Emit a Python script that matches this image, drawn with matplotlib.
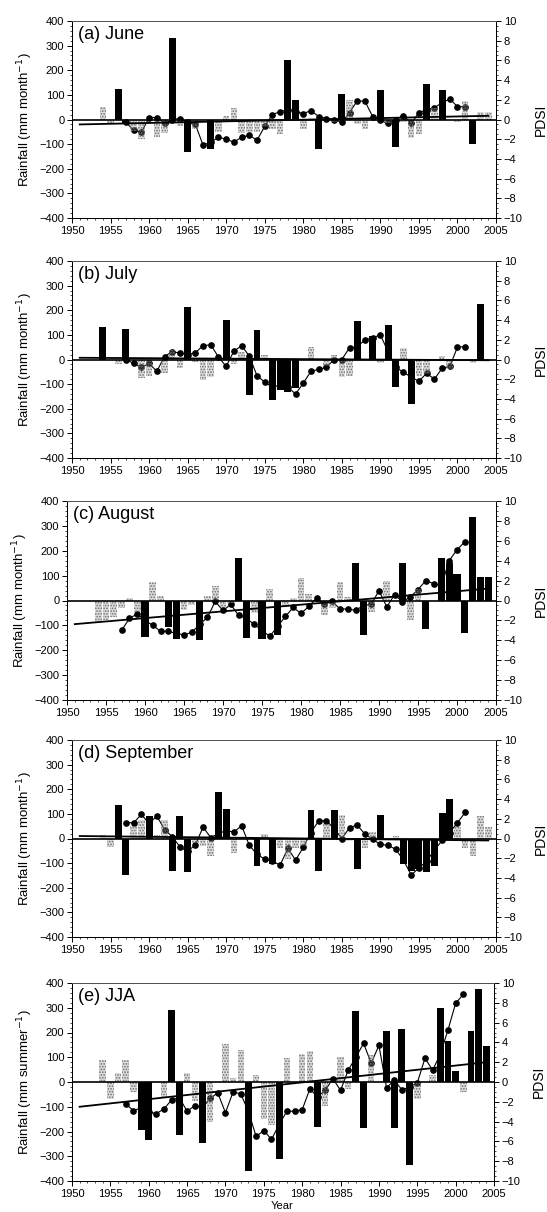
import matplotlib
matplotlib.use('Agg')
import matplotlib.pyplot as plt
from matplotlib.ticker import MultipleLocator

plt.rcParams['font.family'] = ['Liberation Sans', 'DejaVu Sans']
plt.rcParams['hatch.linewidth'] = 0.8

# PDSI is plotted for these years in every panel
PDSI_START = 1957

# (a) June
jun_black_years = [1956, 1957, 1963, 1965, 1968, 1978, 1979, 1982, 1985, 1990, 1992, 1996, 1998, 2002]
jun_black_vals = [125, -15, 330, -130, -120, 240, 80, -120, 105, 120, -110, 145, 120, -100]
jun_grey_years = [1954, 1955, 1958, 1959, 1961, 1962, 1964, 1966, 1969, 1970, 1971, 1972, 1973,
                  1974, 1975, 1976, 1977, 1980, 1984, 1986, 1987, 1988, 1991, 1993, 1994, 1995,
                  1997, 2000, 2001, 2003, 2004]
jun_grey_vals = [50, -20, -45, -80, -70, -55, -25, -40, -50, 15, 45, -55, -50,
                 -50, -30, -40, -60, -40, -10, 80, -20, -40, -15, -10, -75, -60,
                 45, -10, 75, 30, 30]
jun_pdsi = [-0.3, -1.1, -1.3, 0.2, 0.2, -0.4, 0.0, 0.1, -0.3, -0.5,
            -2.6, -2.3, -1.8, -2.0, -2.3, -1.8, -1.6, -2.1, -0.7, 0.5,
            0.8, 1.0, 0.8, 0.6, 0.9, 0.3, 0.1, 0.0, -0.3, 0.7,
            1.9, 1.85, 0.3, -0.1, -0.4, 0.0, 0.4, -0.4, 0.7, 1.0,
            1.2, 1.7, 2.1, 1.3, 1.3]
jun_trend = [-20, 15]

# (b) July
jul_black_years = [1954, 1957, 1965, 1970, 1973, 1974, 1976, 1977, 1978, 1979, 1987, 1989,
                   1991, 1992, 1994, 2003]
jul_black_vals = [130, 125, 215, 160, -145, 120, -165, -125, -130, -115, 155, 95,
                  140, -110, -180, 225]
jul_grey_years = [1956, 1959, 1960, 1962, 1963, 1964, 1966, 1967, 1968, 1971, 1972, 1975,
                  1981, 1983, 1984, 1985, 1986, 1990, 1993, 1995, 1996, 1998, 1999, 2002, 2004]
jul_grey_vals = [-20, -75, -65, -55, 40, -35, -10, -85, -70, -20, 30, 20,
                 50, -25, 20, -70, -65, -15, 45, -65, -60, 15, -40, -15, -5]
jul_pdsi = [0.0, -0.4, -0.8, -0.4, -1.2, 0.3, 0.8, 0.65, 0.5, 0.7,
            1.4, 1.5, 0.25, -0.7, 0.85, 1.4, 0.35, -1.65, -2.3, -2.8,
            -2.6, -2.8, -3.5, -2.4, -1.2, -1.0, -0.8, 0.0, 0.0, 1.2,
            1.3, 2.0, 2.2, 2.5, 0.8, -0.8, -1.3, -1.8, -2.2, -1.4,
            -2.0, -0.9, -0.7, 1.25, 1.3]
jul_trend = [7, -3]

# (c) August
aug_black_years = [1960, 1963, 1964, 1967, 1972, 1973, 1975, 1977, 1987, 1988, 1993, 1996,
                   1998, 1999, 2000, 2001, 2002, 2003, 2004]
aug_black_vals = [-145, -105, -155, -160, 170, -150, -155, -140, 150, -140, 150, -115,
                  170, 150, 105, -130, 335, 95, 95]
aug_grey_years = [1954, 1955, 1956, 1957, 1958, 1959, 1961, 1962, 1965, 1966, 1968, 1969,
                  1970, 1971, 1974, 1976, 1978, 1979, 1980, 1981, 1983, 1984, 1985, 1986,
                  1989, 1991, 1994, 1995]
aug_grey_vals = [-85, -80, -65, -30, 10, -45, 75, 20, -40, -20, 20, 60,
                 -25, -10, -50, 45, -25, 10, 90, 25, -60, -30, 75, 15,
                 -45, 80, -80, 45]
aug_pdsi = [-3.0, -1.8, -1.35, -2.0, -2.5, -3.1, -3.1, -3.3, -3.45, -3.2,
            -2.4, -1.7, -0.1, -1.0, -0.4, -1.5, -1.8, -2.4, -3.0, -3.6,
            -2.6, -1.6, -0.7, -1.3, -0.6, 0.25, -0.35, -0.1, -0.85, -0.85,
            -1.0, -0.5, -0.4, 1.0, -0.65, 0.6, -0.15, 0.35, 1.1, 2.0,
            1.7, 1.5, 4.0, 5.1, 5.9]
aug_trend = [-95, 48]

# (d) September
sep_black_years = [1956, 1957, 1960, 1963, 1964, 1965, 1969, 1970, 1974, 1976, 1981, 1982,
                   1984, 1987, 1990, 1993, 1994, 1995, 1996, 1997, 1998, 1999]
sep_black_vals = [135, -150, 90, -130, 90, -135, 190, 120, -110, -105, 115, -130,
                  115, -125, 95, -105, -130, -125, -135, -110, 105, 160]
sep_grey_years = [1954, 1955, 1958, 1959, 1961, 1962, 1966, 1967, 1968, 1971, 1975, 1977,
                  1978, 1979, 1980, 1983, 1985, 1986, 1988, 1989, 1992, 2000, 2001, 2002,
                  2003, 2004]
sep_grey_vals = [15, -35, 50, 75, 15, 75, -20, -30, -70, -60, 20, -40,
                 -85, -40, -30, 60, 95, -10, -40, 25, 10, 45, -40, -70,
                 90, 45]
sep_pdsi = [1.6, 1.6, 2.45, 1.5, 2.3, 0.9, 0.2, -0.85, -1.3, -0.65,
            1.15, 0.1, 0.5, 0.8, 0.65, 1.3, -0.7, -1.6, -2.1, -2.3,
            -2.7, -1.0, -2.2, -0.9, 0.6, 1.8, 1.8, 1.0, 0.0, 1.1,
            1.35, 0.45, -0.1, -0.6, -0.7, -1.1, -2.2, -3.7, -3.0, -2.3,
            -1.2, -0.2, 0.6, 1.6, 2.65]
sep_trend = [10, -8]

# (e) JJA
jja_black_years = [1959, 1960, 1963, 1964, 1967, 1973, 1977, 1982, 1987, 1988, 1991, 1992,
                   1993, 1994, 1998, 1999, 2000, 2002, 2003, 2004]
jja_black_vals = [-195, -235, 290, -215, -245, -360, -310, -180, 285, -185, 205, -185,
                  215, -335, 300, 165, 45, 205, 375, 145]
jja_grey_years = [1954, 1955, 1956, 1957, 1958, 1961, 1962, 1965, 1966, 1968, 1970, 1971,
                  1972, 1974, 1975, 1976, 1978, 1980, 1981, 1983, 1985, 1986, 1989, 1995,
                  1997, 2001]
jja_grey_vals = [90, -70, 35, 90, -40, 5, -60, 35, -75, -160, 155, 15,
                 130, 30, -150, -175, 95, 115, 125, -95, 100, -30, 110, -70,
                 30, -40]
jja_pdsi = [-2.2, -2.9, -2.6, -3.0, -3.2, -2.7, -1.8, -1.6, -2.95, -2.4,
            -2.6, -1.65, -1.1, -3.1, -1.0, -1.2, -3.0, -5.5, -4.9, -5.8,
            -4.3, -2.95, -2.95, -2.8, -0.7, -1.5, -0.85, 0.35, -0.85, 1.2,
            2.5, 3.9, 1.9, 3.7, -0.6, 0.2, -0.8, -0.5, -0.1, 2.4,
            1.2, 2.8, 5.25, 7.95, 8.85]
jja_trend = [-100, 80]

TREND_YEARS = [1951, 2004]

W, H = 547, 1212
# panel boxes in pixels: left, top, right, bottom
boxes = [(72, 21, 496, 218), (72, 261, 496, 458), (67, 501, 496, 700),
         (72, 740, 496, 937), (72, 983, 494, 1181)]


def draw_panel(box, black_years, black_vals, grey_years, grey_vals, pdsi, trend,
               label, ylabel):
    l, t, r, b = box
    ax = fig.add_axes([l / W, 1 - b / H, (r - l) / W, (b - t) / H])
    ax2 = ax.twinx()
    ax.set_zorder(ax2.get_zorder() + 1)
    ax.patch.set_visible(False)

    years = list(range(PDSI_START, PDSI_START + len(pdsi)))
    ax2.plot(years, pdsi, color='black', lw=0.8, marker='o', ms=3.8)

    # dotted grey bars, see-through so the PDSI line shows behind them
    ax.bar(grey_years, grey_vals, width=0.85, facecolor=(0.55, 0.55, 0.55, 0.3),
           edgecolor='#6e6e6e', hatch='......', lw=0, zorder=1)
    ax.axhline(0, color='black', lw=1.2, zorder=2)
    ax.plot(TREND_YEARS, trend, color='black', lw=1.3, zorder=2)
    ax.bar(black_years, black_vals, width=0.9, color='black', lw=0, zorder=3)

    ax.set_xlim(1950, 2005)
    ax.set_ylim(-400, 400)
    ax2.set_ylim(-10, 10)
    ax.xaxis.set_major_locator(MultipleLocator(5))
    ax.xaxis.set_minor_locator(MultipleLocator(1))
    ax.yaxis.set_major_locator(MultipleLocator(100))
    ax.yaxis.set_minor_locator(MultipleLocator(20))
    ax2.yaxis.set_major_locator(MultipleLocator(2))
    ax2.yaxis.set_minor_locator(MultipleLocator(0.5))

    for a in (ax, ax2):
        a.tick_params(which='major', direction='out', length=3.5, width=0.7,
                      labelsize=8, pad=2)
        a.tick_params(which='minor', direction='out', length=1.5, width=0.5)
        for s in a.spines.values():
            s.set_linewidth(0.7)
    ax.spines['top'].set_color('#555555')

    ax.set_ylabel(ylabel, fontsize=9.5, labelpad=3)
    ax2.set_ylabel('PDSI', fontsize=10, labelpad=8)
    ax.text(0.015, 0.975, label, transform=ax.transAxes, ha='left', va='top',
            fontsize=13)
    return ax


fig = plt.figure(figsize=(W / 100, H / 100), dpi=100)

month_label = 'Rainfall (mm month$^{-1}$)'
draw_panel(boxes[0], jun_black_years, jun_black_vals, jun_grey_years, jun_grey_vals,
           jun_pdsi, jun_trend, '(a) June', month_label)
draw_panel(boxes[1], jul_black_years, jul_black_vals, jul_grey_years, jul_grey_vals,
           jul_pdsi, jul_trend, '(b) July', month_label)
draw_panel(boxes[2], aug_black_years, aug_black_vals, aug_grey_years, aug_grey_vals,
           aug_pdsi, aug_trend, '(c) August', month_label)
draw_panel(boxes[3], sep_black_years, sep_black_vals, sep_grey_years, sep_grey_vals,
           sep_pdsi, sep_trend, '(d) September', month_label)
draw_panel(boxes[4], jja_black_years, jja_black_vals, jja_grey_years, jja_grey_vals,
           jja_pdsi, jja_trend, '(e) JJA', 'Rainfall (mm summer$^{-1}$)')

fig.text(282 / W, 1 - 1201 / H, 'Year', ha='center', va='top', fontsize=8)

fig.savefig('out.png', dpi=100)
